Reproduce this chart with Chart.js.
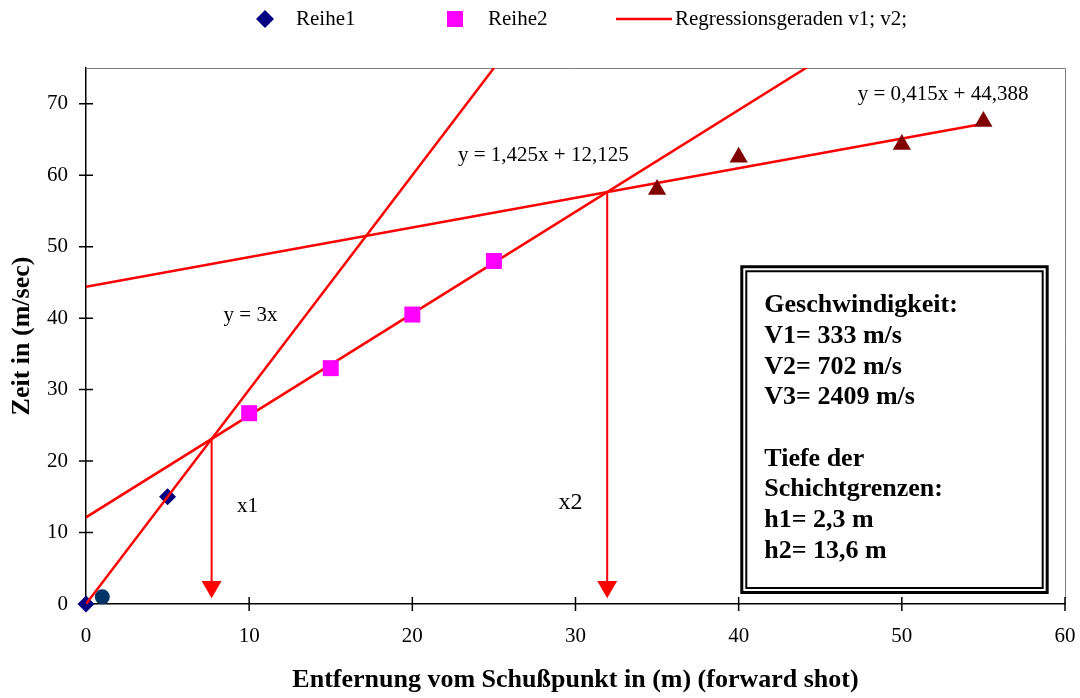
<!DOCTYPE html>
<html>
<head>
<meta charset="utf-8">
<script src="https://cdn.jsdelivr.net/npm/chart.js@4.4.1/dist/chart.umd.min.js"></script>
<style>
  body { margin: 0; background: #fff; }
  #wrap { width: 1080px; height: 698px; }
</style>
</head>
<body>
<div id="wrap"><canvas id="refraction" width="1080" height="698"></canvas></div>
<script>
// Messwerte (Laufzeit über Entfernung)
const reihe1X = [0, 5];
const reihe1Y = [0, 15];
const reihe2X = [10, 15, 20, 25];
const reihe2Y = [26.7, 33, 40.5, 48];
const reihe3X = [35, 40, 50, 55];
const reihe3Y = [58, 62.5, 64.3, 67.5];
const extraX = [1];
const extraY = [1];

// Regressionsgeraden y = m*x + b
const slopes = [3, 1.425, 0.415];
const intercepts = [0, 12.125, 44.388];
const lineFrom = [0, 0, 0];
const lineTo = [30, 50, 55];
const equationLabels = ['y = 3x', 'y = 1,425x + 12,125', 'y = 0,415x + 44,388'];

const xTicks = [0, 10, 20, 30, 40, 50, 60];
const yTicks = [0, 10, 20, 30, 40, 50, 60, 70];

const legendLabels = ['Reihe1', 'Reihe2', 'Regressionsgeraden v1; v2;'];

const infoLines = [
  'Geschwindigkeit:', 'V1= 333 m/s', 'V2= 702 m/s', 'V3= 2409 m/s', '',
  'Tiefe der', 'Schichtgrenzen:', 'h1= 2,3 m', 'h2= 13,6 m'
];

const SERIF = '"Liberation Serif", "Times New Roman", serif';
const RED = '#ff0000';

const pts = (xs, ys) => xs.map((x, i) => ({ x, y: ys[i] }));

const lineSets = slopes.map((m, i) => ({
  type: 'line',
  data: [lineFrom[i], lineTo[i]].map(x => ({ x, y: m * x + intercepts[i] })),
  borderColor: RED,
  borderWidth: 2.5,
  pointRadius: 0,
  fill: false
}));

// Knickpunkte = Schnittpunkte benachbarter Geraden
const kinks = [0, 1].map(i => {
  const x = (intercepts[i + 1] - intercepts[i]) / (slopes[i] - slopes[i + 1]);
  return { x, y: slopes[i] * x + intercepts[i] };
});
const arrowSets = kinks.map(k => ({
  type: 'line',
  data: [{ x: k.x, y: k.y }, { x: k.x, y: 2.4 }],
  borderColor: RED,
  borderWidth: 2,
  pointRadius: [0, 11.5],
  pointStyle: 'triangle',
  rotation: 180,
  pointBackgroundColor: RED,
  pointBorderWidth: 0,
  fill: false
}));

const decor = {
  id: 'decor',
  beforeDatasetsDraw(chart) {
    const { ctx, chartArea: a, scales: { x, y } } = chart;
    ctx.save();
    ctx.strokeStyle = '#808080';
    ctx.lineWidth = 1;
    ctx.beginPath();
    ctx.moveTo(a.left, a.top + 0.5);
    ctx.lineTo(a.right + 0.5, a.top + 0.5);
    ctx.lineTo(a.right + 0.5, a.bottom);
    ctx.stroke();
    // Teilstriche über die Achse hinweg
    ctx.strokeStyle = '#000';
    ctx.lineWidth = 1.5;
    ctx.beginPath();
    xTicks.forEach(v => {
      const px = x.getPixelForValue(v);
      ctx.moveTo(px, a.bottom - 7);
      ctx.lineTo(px, a.bottom + 7);
    });
    yTicks.forEach(v => {
      const py = y.getPixelForValue(v);
      ctx.moveTo(a.left - 7, py);
      ctx.lineTo(a.left + 7, py);
    });
    ctx.stroke();
    ctx.restore();
  },
  afterDraw(chart) {
    const { ctx, scales: { x, y } } = chart;
    const px = v => x.getPixelForValue(v);
    const py = v => y.getPixelForValue(v);
    ctx.save();
    ctx.fillStyle = '#000';
    ctx.textBaseline = 'middle';

    // Gleichungen an den Geraden
    ctx.font = '21px ' + SERIF;
    ctx.textAlign = 'center';
    ctx.fillText(equationLabels[0], px(10.08), py(40.4));
    ctx.textAlign = 'left';
    ctx.fillText(equationLabels[1], px(22.8), py(62.7));
    ctx.fillText(equationLabels[2], px(47.3), py(71.25));
    ctx.textAlign = 'center';
    ctx.fillText('x1', px(9.9), py(13.6));
    ctx.font = '24px ' + SERIF;
    ctx.fillText('x2', px(29.7), py(14.2));

    // Legende oben
    const ly = 19;
    const H = Chart.helpers;
    ctx.fillStyle = '#000080';
    H.drawPoint(ctx, { pointStyle: 'rectRot', radius: 9, rotation: 0, borderWidth: 0 }, 265, ly);
    ctx.fillStyle = '#ff00ff';
    H.drawPoint(ctx, { pointStyle: 'rect', radius: 11.3, rotation: 0, borderWidth: 0 }, 455, ly);
    ctx.strokeStyle = RED;
    ctx.lineWidth = 2.5;
    ctx.beginPath();
    ctx.moveTo(616, ly);
    ctx.lineTo(672, ly);
    ctx.stroke();
    ctx.fillStyle = '#000';
    ctx.font = '21px ' + SERIF;
    ctx.textAlign = 'left';
    ctx.fillText(legendLabels[0], 296, ly);
    ctx.fillText(legendLabels[1], 488, ly);
    ctx.fillText(legendLabels[2], 675, ly);

    // Ergebniskasten mit Doppelrahmen
    const bx0 = px(40.1), bx1 = px(59.0), by0 = py(47.4), by1 = py(1.4);
    ctx.fillStyle = '#fff';
    ctx.fillRect(bx0, by0, bx1 - bx0, by1 - by0);
    ctx.strokeStyle = '#000';
    ctx.lineWidth = 3;
    ctx.strokeRect(bx0 + 1.5, by0 + 1.5, bx1 - bx0 - 3, by1 - by0 - 3);
    ctx.lineWidth = 2;
    ctx.strokeRect(bx0 + 6, by0 + 6, bx1 - bx0 - 12, by1 - by0 - 12);
    ctx.fillStyle = '#000';
    ctx.font = 'bold 26px ' + SERIF;
    ctx.textBaseline = 'alphabetic';
    infoLines.forEach((t, i) => {
      if (t) ctx.fillText(t, bx0 + 24, by0 + 47 + i * 30.7);
    });
    ctx.restore();
  }
};

new Chart(document.getElementById('refraction'), {
  type: 'scatter',
  data: {
    datasets: [
      {
        label: legendLabels[1],
        data: pts(reihe2X, reihe2Y),
        pointStyle: 'rect',
        pointRadius: 11.3,
        backgroundColor: '#ff00ff',
        borderWidth: 0
      },
      {
        data: pts(reihe3X, reihe3Y),
        pointStyle: 'triangle',
        pointRadius: 10.5,
        backgroundColor: '#800000',
        borderWidth: 0
      },
      ...lineSets,
      ...arrowSets,
      {
        label: legendLabels[0],
        data: pts(reihe1X, reihe1Y),
        pointStyle: 'rectRot',
        pointRadius: 8.5,
        backgroundColor: '#000080',
        borderWidth: 0,
        clip: false
      },
      {
        data: pts(extraX, extraY),
        pointStyle: 'circle',
        pointRadius: 7.5,
        backgroundColor: '#003366',
        borderWidth: 0,
        clip: false
      }
    ]
  },
  options: {
    responsive: false,
    animation: false,
    events: [],
    layout: { padding: { top: 68, right: 15, left: 0, bottom: 0 } },
    plugins: { legend: { display: false }, tooltip: { enabled: false } },
    scales: {
      x: {
        type: 'linear',
        min: 0,
        max: 60,
        afterBuildTicks: s => { s.ticks = xTicks.map(value => ({ value })); },
        afterFit: s => {
          s.height = 94;
          s.paddingLeft = 0;
          s.paddingRight = 0;
        },
        grid: { display: false, drawTicks: false },
        border: { color: '#000', width: 1.5 },
        ticks: { padding: 20, color: '#000', maxRotation: 0, font: { family: SERIF, size: 21 } },
        title: {
          display: true,
          text: 'Entfernung vom Schußpunkt in (m) (forward shot)',
          color: '#000',
          font: { family: SERIF, size: 26, weight: 'bold' },
          padding: { top: 0, bottom: 2 }
        }
      },
      y: {
        type: 'linear',
        min: 0,
        max: 75,
        afterBuildTicks: s => { s.ticks = yTicks.map(value => ({ value })); },
        afterFit: s => {
          s.width = 86;
          s.paddingTop = 0;
          s.paddingBottom = 0;
        },
        grid: { display: false, drawTicks: false },
        border: { color: '#000', width: 1.5 },
        ticks: { padding: 18, color: '#000', font: { family: SERIF, size: 21 } },
        title: {
          display: true,
          text: 'Zeit in (m/sec)',
          color: '#000',
          font: { family: SERIF, size: 26, weight: 'bold' },
          padding: { top: 7, bottom: 0 }
        }
      }
    }
  },
  plugins: [decor]
});
</script>
</body>
</html>
